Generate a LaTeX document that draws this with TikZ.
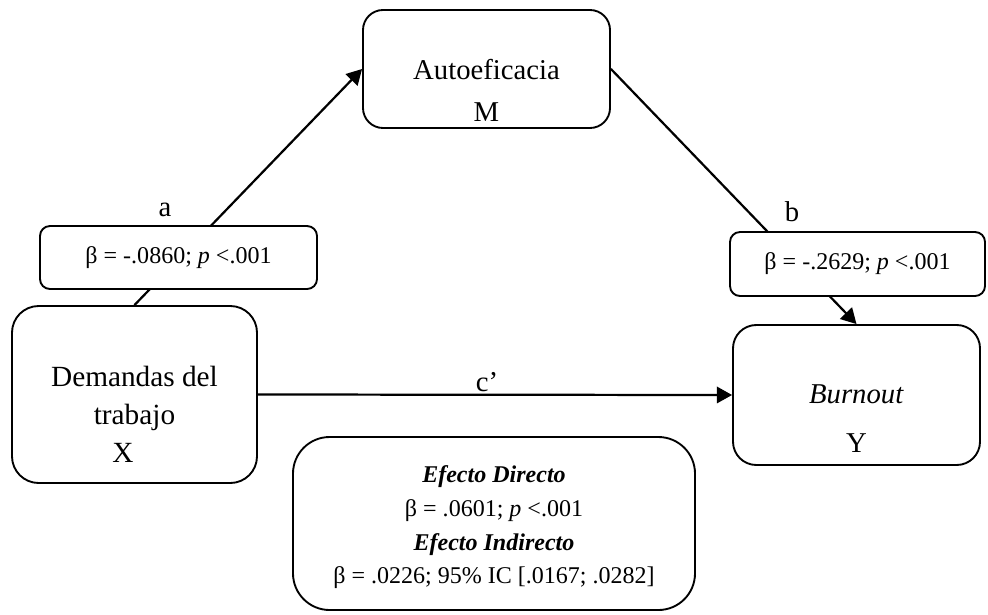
\documentclass[tikz,border=0pt]{standalone}
\usepackage{fontspec}
\setmainfont{Liberation Serif}
\usetikzlibrary{arrows.meta, positioning}

\begin{document}
\begin{tikzpicture}[x=0.03cm, y=-0.03cm,
    varbox/.style={rectangle, draw, line width=1.6pt, fill=white},
    coefbox/.style={rectangle, rounded corners=0.3cm, draw, line width=1.6pt, fill=white, font=\fontsize{20.5}{24}\selectfont},
    vartext/.style={align=center, inner sep=0pt},
    arrow/.style={-{Triangle[length=13pt, width=14pt]}, line width=1.9pt}
]
\useasboundingbox (0,0) rectangle (988,614);

% Variables
\node[varbox, rounded corners=0.6cm, minimum width=7.41cm, minimum height=3.54cm] (autoef) at (486.5,69) {};
\node[varbox, rounded corners=0.8cm, minimum width=7.35cm, minimum height=5.31cm] (demandas) at (134.5,394.5) {};
\node[varbox, rounded corners=0.7cm, minimum width=7.41cm, minimum height=4.2cm] (burnout) at (856.5,395) {};

\node[vartext, font=\fontsize{24.5}{35.7}\selectfont] (autoeftxt) at (486.5,90) {Autoeficacia\\M};
\node[vartext, font=\fontsize{25}{32.5}\selectfont] (demandastxt) at (134.5,414) {Demandas del\\trabajo\\X\hspace*{0.69cm}};
\node[vartext, font=\fontsize{24.5}{41.8}\selectfont] (burnouttxt) at (856.5,419) {\textit{Burnout}\\Y};

% Paths
\draw[arrow] (demandas.north) -- (autoef.west);
\draw[arrow] (autoef.east) -- (burnout.north);
\draw[arrow] (demandas.east) -- (burnout.west);

% Coefficients
\node[coefbox, minimum width=8.31cm, minimum height=1.89cm] (coefa) at (178.5,257.5) {β = -.0860; \textit{p} <.001};
\node[coefbox, minimum width=7.65cm, minimum height=1.92cm] (coefb) at (857.5,264) {β = -.2629; \textit{p} <.001};

\node[font=\fontsize{24.5}{30}\selectfont] (labela) at (165,210) {a};
\node[font=\fontsize{24.5}{30}\selectfont] (labelb) at (792,212) {b};
\node[font=\fontsize{24.5}{30}\selectfont] (labelc) at (487,382) {c’};

% Effects
\node[varbox, rounded corners=1.1cm, minimum width=12.06cm, minimum height=5.19cm] (efectos) at (494,523.5) {};
\node[vartext, font=\fontsize{20.5}{28.7}\selectfont] (efectostxt) at (494,527.5) {\textbf{\textit{Efecto Directo}}\\β = .0601; \textit{p} <.001\\\textbf{\textit{Efecto Indirecto}}\\β = .0226; 95\% IC [.0167; .0282]};

\end{tikzpicture}
\end{document}
